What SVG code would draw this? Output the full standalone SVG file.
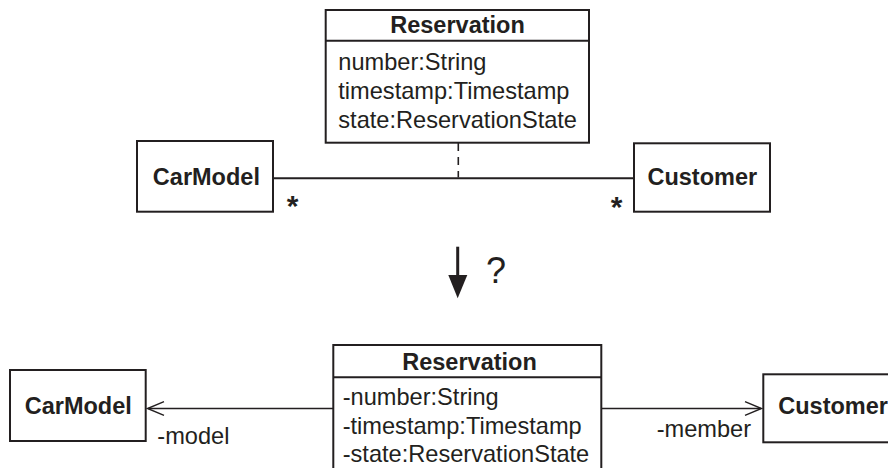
<svg xmlns="http://www.w3.org/2000/svg" width="888" height="468" viewBox="0 0 888 468">
<style>
  .box { fill: #ffffff; stroke: #231f20; stroke-width: 2; }
  .sep { stroke: #231f20; stroke-width: 2; fill: none; }
  .t { font-family: "Liberation Sans", Arial, sans-serif; fill: #231f20; }
  .name { font-size: 23.5px; font-weight: bold; text-anchor: middle; }
  .attr { font-size: 23.6px; }
  .lbl { font-size: 23.6px; }
  .assoc { stroke: #231f20; stroke-width: 2; fill: none; }
  .nav { stroke: #231f20; stroke-width: 1.4; fill: none; }
  .star { font-size: 30px; font-weight: bold; text-anchor: middle; }
</style>
<rect width="888" height="468" fill="#ffffff"/>

<g id="connectors">
  <line class="assoc" x1="274" y1="178.3" x2="634" y2="178.3"/>
  <line x1="458.3" y1="143" x2="458.3" y2="177.5" stroke="#231f20" stroke-width="1.6" stroke-dasharray="8 6"/>
  <text class="t star" x="292.5" y="216">*</text>
  <text class="t star" x="616.5" y="216.5">*</text>
  <line class="nav" x1="333.3" y1="408.5" x2="148" y2="408.5"/>
  <polyline class="nav" points="164,401.7 147.5,408.5 164,415.3"/>
  <text class="t lbl" x="157.3" y="444">-model</text>
  <line class="nav" x1="601.3" y1="408.5" x2="761" y2="408.5"/>
  <polyline class="nav" points="745,401.7 761.5,408.5 745,415.3"/>
  <text class="t lbl" x="656.7" y="436.7">-member</text>
  <line x1="457.7" y1="246.7" x2="457.7" y2="276" stroke="#231f20" stroke-width="3"/>
  <polygon points="448.3,275 467.3,275 457.7,298.3" fill="#231f20"/>
  <text class="t" x="486" y="283.3" font-size="36">?</text>
</g>

<g id="reservation-top">
  <rect class="box" x="325.7" y="10" width="263.3" height="132.7"/>
  <line class="sep" x1="325.7" y1="40.7" x2="589" y2="40.7"/>
  <text class="t name" x="457.5" y="33.3">Reservation</text>
  <text class="t attr" x="338.3" y="70">number:String</text>
  <text class="t attr" x="338.3" y="99">timestamp:Timestamp</text>
  <text class="t attr" x="338.3" y="128">state:ReservationState</text>
</g>

<g id="carmodel-top">
  <rect class="box" x="137" y="141" width="136" height="70.7"/>
  <text class="t name" x="206.4" y="185">CarModel</text>
</g>

<g id="customer-top">
  <rect class="box" x="634" y="143.3" width="136" height="68.4"/>
  <text class="t name" x="702.3" y="185">Customer</text>
</g>

<g id="carmodel-bottom">
  <rect class="box" x="10" y="370" width="135.7" height="71"/>
  <text class="t name" x="78.3" y="414">CarModel</text>
</g>

<g id="reservation-bottom">
  <rect class="box" x="333.3" y="345" width="268" height="140"/>
  <line class="sep" x1="333.3" y1="377.3" x2="601.3" y2="377.3"/>
  <text class="t name" x="469.5" y="370">Reservation</text>
  <text class="t attr" x="342.7" y="405">-number:String</text>
  <text class="t attr" x="342.7" y="434">-timestamp:Timestamp</text>
  <text class="t attr" x="342.7" y="461.7">-state:ReservationState</text>
</g>

<g id="customer-bottom">
  <rect class="box" x="763.3" y="374.3" width="140" height="68"/>
  <text class="t name" x="778.3" y="414" style="text-anchor:start">Customer</text>
</g>
</svg>
